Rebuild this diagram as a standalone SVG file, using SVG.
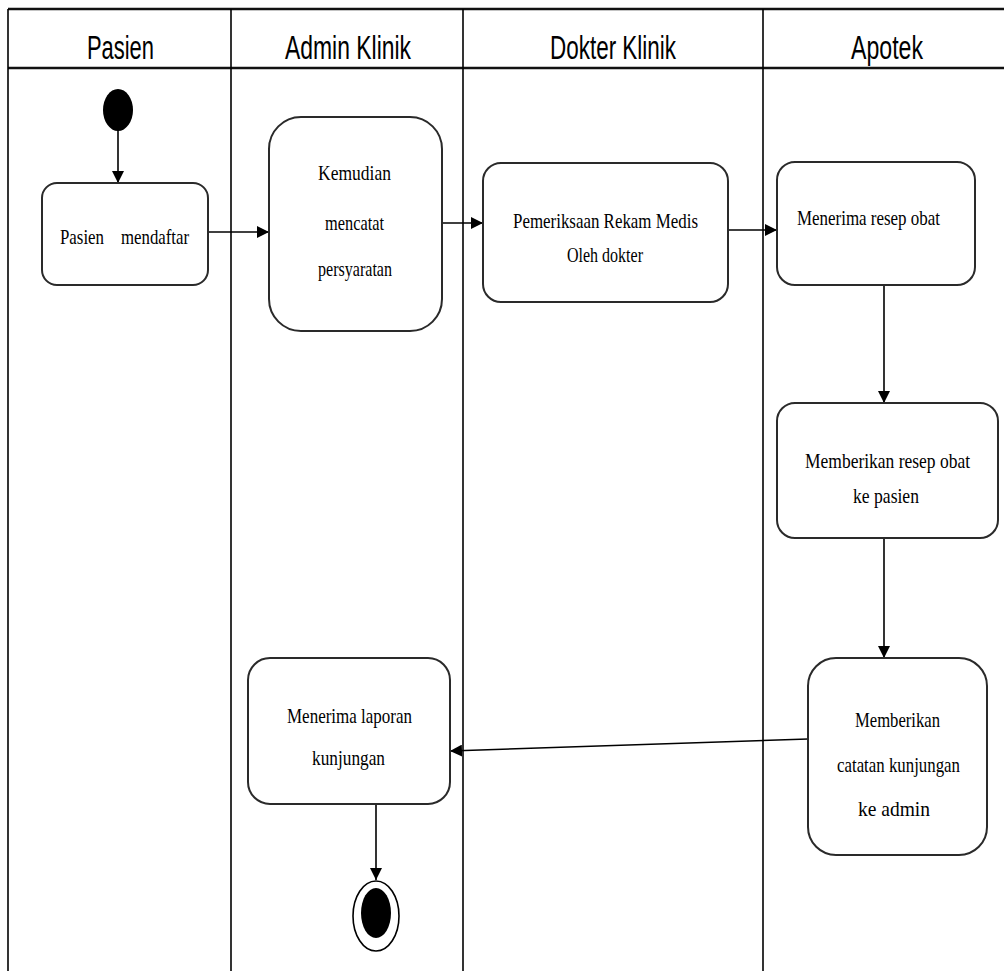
<svg xmlns="http://www.w3.org/2000/svg" width="1004" height="971" viewBox="0 0 1004 971">
  <style>
    .lane { stroke: #000; stroke-width: 1.6; fill: none; }
    .rule { stroke: #111; stroke-width: 2.6; fill: none; }
    .head { font-family: "Liberation Sans", Arial, sans-serif; font-size: 34px; fill: #000; }
    .act { fill: #fff; stroke: #2a2a2a; stroke-width: 2; }
    .lbl { font-family: "Liberation Serif", "Times New Roman", serif; font-size: 21px; fill: #000; }
    .flow { stroke: #000; stroke-width: 1.6; fill: none; marker-end: url(#arrow); }
  </style>
  <defs>
    <marker id="arrow" viewBox="0 0 12 12" refX="12" refY="6" markerWidth="12" markerHeight="12" markerUnits="userSpaceOnUse" orient="auto">
      <path d="M0,0 L12,6 L0,12 Z" fill="#000"/>
    </marker>
  </defs>

  <rect width="1004" height="971" fill="#fff"/>

  <!-- swimlane frame -->
  <g id="lanes">
    <line class="rule" x1="8" y1="9" x2="1004" y2="9"/>
    <line class="rule" x1="8" y1="68" x2="1004" y2="68"/>
    <line class="lane" x1="8" y1="9" x2="8" y2="971"/>
    <line class="lane" x1="231" y1="9" x2="231" y2="971"/>
    <line class="lane" x1="463" y1="9" x2="463" y2="971"/>
    <line class="lane" x1="763" y1="9" x2="763" y2="971"/>
    <text class="head" x="87" y="59" textLength="67" lengthAdjust="spacingAndGlyphs">Pasien</text>
    <text class="head" x="285" y="59" textLength="126" lengthAdjust="spacingAndGlyphs">Admin Klinik</text>
    <text class="head" x="550" y="59" textLength="126" lengthAdjust="spacingAndGlyphs">Dokter Klinik</text>
    <text class="head" x="851" y="59" textLength="72" lengthAdjust="spacingAndGlyphs">Apotek</text>
  </g>

  <!-- connectors -->
  <g id="connectors">
    <line class="flow" x1="118" y1="130" x2="118" y2="183"/>
    <line class="flow" x1="208" y1="232" x2="269" y2="232"/>
    <line class="flow" x1="442" y1="223" x2="483" y2="223"/>
    <line class="flow" x1="728" y1="230" x2="777" y2="230"/>
    <line class="flow" x1="884" y1="285" x2="884" y2="403"/>
    <line class="flow" x1="884" y1="538" x2="884" y2="658"/>
    <line class="flow" x1="808" y1="739" x2="450" y2="751"/>
    <line class="flow" x1="376" y1="804" x2="376" y2="880"/>
  </g>

  <!-- start -->
  <g id="start">
    <ellipse cx="118" cy="110" rx="15" ry="21" fill="#000"/>
  </g>

  <g id="pasien-mendaftar">
    <rect class="act" x="42" y="183" width="166" height="102" rx="15"/>
    <text class="lbl" x="60" y="244" textLength="44" lengthAdjust="spacingAndGlyphs">Pasien</text>
    <text class="lbl" x="121" y="244" textLength="68" lengthAdjust="spacingAndGlyphs">mendaftar</text>
  </g>

  <g id="mencatat-persyaratan">
    <rect class="act" x="269" y="117" width="173" height="214" rx="32"/>
    <text class="lbl" x="318" y="180" textLength="73" lengthAdjust="spacingAndGlyphs">Kemudian</text>
    <text class="lbl" x="325" y="230" textLength="59" lengthAdjust="spacingAndGlyphs">mencatat</text>
    <text class="lbl" x="318" y="276" textLength="74" lengthAdjust="spacingAndGlyphs">persyaratan</text>
  </g>

  <g id="pemeriksaan">
    <rect class="act" x="483" y="163" width="245" height="139" rx="18"/>
    <text class="lbl" x="513" y="228" textLength="185" lengthAdjust="spacingAndGlyphs">Pemeriksaan  Rekam  Medis</text>
    <text class="lbl" x="567" y="262" textLength="76" lengthAdjust="spacingAndGlyphs">Oleh dokter</text>
  </g>

  <g id="menerima-resep">
    <rect class="act" x="777" y="162" width="198" height="123" rx="18"/>
    <text class="lbl" x="797" y="225" textLength="143" lengthAdjust="spacingAndGlyphs">Menerima  resep  obat</text>
  </g>

  <g id="memberikan-resep">
    <rect class="act" x="777" y="403" width="221" height="135" rx="18"/>
    <text class="lbl" x="805" y="468" textLength="165" lengthAdjust="spacingAndGlyphs">Memberikan  resep  obat</text>
    <text class="lbl" x="853" y="503" textLength="66" lengthAdjust="spacingAndGlyphs">ke pasien</text>
  </g>

  <g id="memberikan-catatan">
    <rect class="act" x="808" y="658" width="179" height="197" rx="28"/>
    <text class="lbl" x="855" y="727" textLength="85" lengthAdjust="spacingAndGlyphs">Memberikan</text>
    <text class="lbl" x="837" y="772" textLength="123" lengthAdjust="spacingAndGlyphs">catatan  kunjungan</text>
    <text class="lbl" x="858" y="816" textLength="72" lengthAdjust="spacingAndGlyphs">ke admin</text>
  </g>

  <g id="menerima-laporan">
    <rect class="act" x="248" y="658" width="202" height="146" rx="22"/>
    <text class="lbl" x="287" y="723" textLength="125" lengthAdjust="spacingAndGlyphs">Menerima  laporan</text>
    <text class="lbl" x="312" y="765" textLength="73" lengthAdjust="spacingAndGlyphs">kunjungan</text>
  </g>

  <!-- end -->
  <g id="end">
    <ellipse cx="376" cy="916" rx="23" ry="35" fill="#fff" stroke="#000" stroke-width="1.6"/>
    <ellipse cx="376" cy="913" rx="15" ry="25" fill="#000"/>
  </g>
</svg>
